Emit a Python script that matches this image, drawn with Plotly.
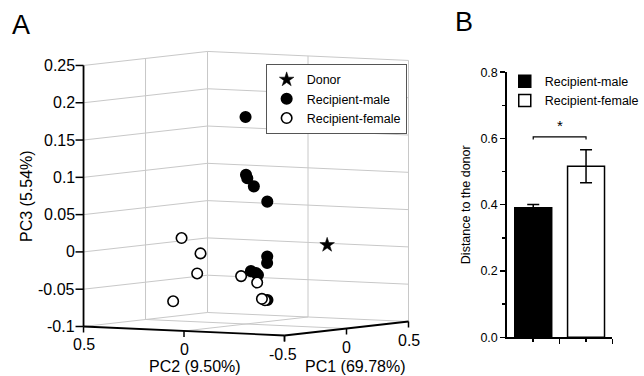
import numpy as np
import plotly.graph_objects as go

# ---------------- data: panel A (PCA scores) ----------------
male_pc1 = [-0.02, 0.00, 0.02, 0.00, 0.05, 0.03, 0.00, -0.03, 0.00, 0.02, -0.02]
male_pc2 = [-0.010, 0.000, 0.006, -0.039, -0.075, -0.087, -0.105, -0.043, -0.050, -0.047, -0.119]
male_pc3 = [0.178, 0.100, 0.095, 0.085, 0.064, -0.009, -0.017, -0.028, -0.031, -0.034, -0.066]

female_pc1 = [-0.10, -0.08, -0.12, -0.15, -0.08, -0.03, -0.05, -0.04]
female_pc2 = [0.259, 0.177, 0.169, 0.270, -0.025, -0.074, -0.110, -0.119]
female_pc3 = [0.014, -0.006, -0.032, -0.070, -0.034, -0.043, -0.064, -0.066]

donor_pc1 = [0.45]
donor_pc2 = [-0.126]
donor_pc3 = [-0.001]

pc1_range = [-0.5, 0.5]
pc2_range = [-0.5, 0.5]
pc3_range = [-0.1, 0.25]
pc1_ticks = [-0.5, 0, 0.5]
pc1_labels = ["-0.5", "0", "0.5"]
pc2_ticks = [-0.5, 0, 0.5]
pc2_labels = ["", "0", "0.5"]
pc3_ticks = [-0.1, -0.05, 0, 0.05, 0.1, 0.15, 0.2, 0.25]
pc3_labels = ["-0.1", "-0.05", "0", "0.05", "0.1", "0.15", "0.2", "0.25"]

# ---------------- data: panel B ----------------
groups = ["Recipient-male", "Recipient-female"]
group_pos = [1, 2]
dist_mean = [0.391, 0.516]
dist_err = [0.010, 0.050]

FONT = "Liberation Sans, Arial, sans-serif"
FS_A = 16

# ---------------- orthographic 3D view (camera, not data) ----------------
AZ = np.radians(57.8)     # azimuth of the view
EL = np.radians(4.08)     # elevation of the view
BOX = (232.7, 237.5, 261.7)  # projected box edge lengths (px)


def norm(p1, p2, p3):
    p1, p2, p3 = (np.asarray(a, dtype=float) for a in (p1, p2, p3))
    u = (p1 - pc1_range[0]) / (pc1_range[1] - pc1_range[0])
    v = (p2 - pc2_range[0]) / (pc2_range[1] - pc2_range[0])
    w = (p3 - pc3_range[0]) / (pc3_range[1] - pc3_range[0])
    return u, v, w


def proj_uvw(u, v, w):
    X, Y, Z = np.asarray(u) * BOX[0], np.asarray(v) * BOX[1], np.asarray(w) * BOX[2]
    sx = X * np.cos(AZ) - Y * np.sin(AZ)
    sy = (X * np.sin(AZ) + Y * np.cos(AZ)) * np.sin(EL) + Z * np.cos(EL)
    depth = X * np.sin(AZ) + Y * np.cos(AZ)
    return sx, sy, depth


def proj(p1, p2, p3):
    return proj_uvw(*norm(p1, p2, p3))


def seg_trace(segs, color, width, dash="solid"):
    xs, ys = [], []
    for a, b in segs:
        for pt in (a, b):
            sx, sy, _ = proj_uvw(*pt)
            xs.append(float(sx)); ys.append(float(sy))
        xs.append(None); ys.append(None)
    return go.Scatter(x=xs, y=ys, mode="lines", xaxis="x3", yaxis="y3",
                      line=dict(color=color, width=width, dash=dash),
                      showlegend=False, hoverinfo="skip")


fig = go.Figure()

# grid on back walls and floor
w_t = norm([0] * len(pc3_ticks), [0] * len(pc3_ticks), pc3_ticks)[2]
u_in = [norm(t, 0, 0)[0] for t in pc1_ticks if pc1_range[0] < t < pc1_range[1]]
v_in = [norm(0, t, 0)[1] for t in pc2_ticks if pc2_range[0] < t < pc2_range[1]]
grid = []
for w in w_t:
    grid.append(((0, 1, w), (1, 1, w)))   # wall PC2 = max
    grid.append(((1, 0, w), (1, 1, w)))   # wall PC1 = max
for u in u_in:
    grid.append(((u, 1, 0), (u, 1, 1)))
    grid.append(((u, 0, 0), (u, 1, 0)))
for v in v_in:
    grid.append(((1, v, 0), (1, v, 1)))
    grid.append(((0, v, 0), (1, v, 0)))
grid.append(((1, 1, 0), (1, 1, 1)))
grid.append(((1, 0, 0), (1, 0, 1)))
fig.add_trace(seg_trace(grid, "#c8c8c8", 1))

# axis lines
axes = [((0, 1, 0), (0, 1, 1)), ((0, 0, 0), (0, 1, 0)), ((0, 0, 0), (1, 0, 0))]
fig.add_trace(seg_trace(axes, "black", 1.8))

# tick marks (in screen px) and tick labels
tx, ty = [], []
annotations = []
for t, lab in zip(pc3_ticks, pc3_labels):
    sx, sy, _ = proj(pc1_range[0], pc2_range[1], t)
    tx += [float(sx), float(sx) - 8, None]; ty += [float(sy), float(sy), None]
    annotations.append(dict(text=lab, x=float(sx) - 7, y=float(sy), xref="x3", yref="y3",
                            xanchor="right", yanchor="middle", showarrow=False,
                            font=dict(size=FS_A)))
for t, lab in zip(pc2_ticks, pc2_labels):
    sx, sy, _ = proj(pc1_range[0], t, pc3_range[0])
    tx += [float(sx), float(sx), None]; ty += [float(sy), float(sy) - 6, None]
    if lab:
        annotations.append(dict(text=lab, x=float(sx), y=float(sy) - 18, xref="x3", yref="y3",
                                xanchor="center", yanchor="middle", showarrow=False,
                                font=dict(size=FS_A)))
for t, lab in zip(pc1_ticks, pc1_labels):
    sx, sy, _ = proj(t, pc2_range[0], pc3_range[0])
    tx += [float(sx), float(sx), None]; ty += [float(sy), float(sy) - 6, None]
    if lab:
        annotations.append(dict(text=lab, x=float(sx) - (2 if t < 0 else 0), y=float(sy) - 19,
                                xref="x3", yref="y3", xanchor="center", yanchor="middle",
                                showarrow=False, font=dict(size=FS_A)))
fig.add_trace(go.Scatter(x=tx, y=ty, mode="lines", xaxis="x3", yaxis="y3",
                         line=dict(color="black", width=1.5), showlegend=False, hoverinfo="skip"))

# data points (each group drawn far-to-near)
dsx, dsy, _ = proj(donor_pc1, donor_pc2, donor_pc3)
fig.add_trace(go.Scatter(x=dsx, y=dsy, mode="markers", name="Donor", xaxis="x3", yaxis="y3",
                         marker=dict(symbol="star", size=11, color="black",
                                     line=dict(color="black", width=0.5)),
                         legend="legend", legendrank=1, hoverinfo="skip"))
for nm, p1, p2, p3, fill, rank in [("Recipient-male", male_pc1, male_pc2, male_pc3, "black", 2),
                                   ("Recipient-female", female_pc1, female_pc2, female_pc3, "white", 3)]:
    sx, sy, dep = proj(p1, p2, p3)
    order = np.argsort(-dep)
    fig.add_trace(go.Scatter(x=sx[order], y=sy[order], mode="markers", name=nm,
                             xaxis="x3", yaxis="y3",
                             marker=dict(symbol="circle", size=10.5, color=fill,
                                         line=dict(color="black", width=1.6)),
                             legend="legend", legendrank=rank, hoverinfo="skip"))

# panel B bars
bar_fill = ["black", "white"]
for i in range(2):
    fig.add_trace(go.Bar(
        x=[group_pos[i]], y=[dist_mean[i]], name=groups[i], width=0.7,
        marker=dict(color=bar_fill[i], line=dict(color="black", width=1.5)),
        error_y=dict(type="data", array=[dist_err[i]], visible=True,
                     color="black", thickness=1.5, width=6),
        legend="legend2", hoverinfo="skip"))

annotations += [
    dict(text="A", x=10 / 644, y=1 - 8 / 376, xref="paper", yref="paper",
         xanchor="left", yanchor="top", showarrow=False, font=dict(size=27)),
    dict(text="B", x=453 / 644, y=1 - 5 / 376, xref="paper", yref="paper",
         xanchor="left", yanchor="top", showarrow=False, font=dict(size=27)),
    dict(text="*", x=1.5, y=0.607, xref="x", yref="y", xanchor="center", yanchor="bottom",
         showarrow=False, font=dict(size=15)),
    dict(text="PC3 (5.54%)", x=26 / 644, y=1 - 196 / 376, xref="paper", yref="paper",
         xanchor="center", yanchor="middle", textangle=-90, showarrow=False, font=dict(size=FS_A)),
    dict(text="PC2 (9.50%)", x=195.5 / 644, y=1 - 366.5 / 376, xref="paper", yref="paper",
         xanchor="center", yanchor="middle", showarrow=False, font=dict(size=FS_A)),
    dict(text="PC1 (69.78%)", x=355.5 / 644, y=1 - 366.5 / 376, xref="paper", yref="paper",
         xanchor="center", yanchor="middle", showarrow=False, font=dict(size=FS_A)),
]

X3_DOMAIN = [0, 0.69]
fig.update_layout(
    width=644, height=376,
    margin=dict(l=0, r=0, t=0, b=0, autoexpand=False),
    paper_bgcolor="white", plot_bgcolor="rgba(0,0,0,0)",
    font=dict(family=FONT, color="black"),
    hovermode=False,
    barmode="overlay",
    xaxis3=dict(domain=X3_DOMAIN, range=[-284.5, 644 * X3_DOMAIN[1] - 284.5],
                visible=False, anchor="y3"),
    yaxis3=dict(domain=[0, 1], range=[-(376 - 335.5), 335.5], visible=False, anchor="x3"),
    xaxis=dict(domain=[0.787, 0.951], range=[0.5, 2.5], anchor="y",
               showline=True, linecolor="black", linewidth=1.5,
               tickvals=[1.5, 2.5], ticks="outside", ticklen=5, tickwidth=1.5, tickcolor="black",
               showticklabels=False, showgrid=False, zeroline=False,
               minor=dict(tickvals=[1, 2], ticks="outside", ticklen=3, tickwidth=1.5, tickcolor="black")),
    yaxis=dict(domain=[0.103, 0.808], range=[0, 0.8], anchor="x",
               showline=True, linecolor="black", linewidth=1.5,
               tickvals=[0, 0.2, 0.4, 0.6, 0.8], ticktext=["0.0", "0.2", "0.4", "0.6", "0.8"],
               ticks="outside", ticklen=5, tickwidth=1.5, tickcolor="black",
               tickfont=dict(size=12.5), showgrid=False, zeroline=False,
               minor=dict(dtick=0.1, tick0=0, ticks="outside", ticklen=3, tickwidth=1.5, tickcolor="black"),
               title=dict(text="Distance to the donor", font=dict(size=12.5), standoff=7)),
    legend=dict(x=0.4125, y=0.830, xanchor="left", yanchor="top",
                bgcolor="white", bordercolor="#555555", borderwidth=1,
                font=dict(size=12.5), itemwidth=30, tracegroupgap=0, traceorder="normal"),
    legend2=dict(x=0.7838, y=0.8226, xanchor="left", yanchor="top",
                 bgcolor="rgba(0,0,0,0)", borderwidth=0,
                 font=dict(size=12.5), itemwidth=30, tracegroupgap=0),
    shapes=[dict(type="path", xref="x", yref="y",
                 path="M 1,0.597 L 1,0.605 L 2,0.605 L 2,0.597",
                 line=dict(color="black", width=1.2))],
    annotations=annotations,
)

fig.write_html("out.html", config=dict(displayModeBar=False, staticPlot=True),
               post_script="document.body.style.margin='0';document.body.style.overflow='hidden';")
